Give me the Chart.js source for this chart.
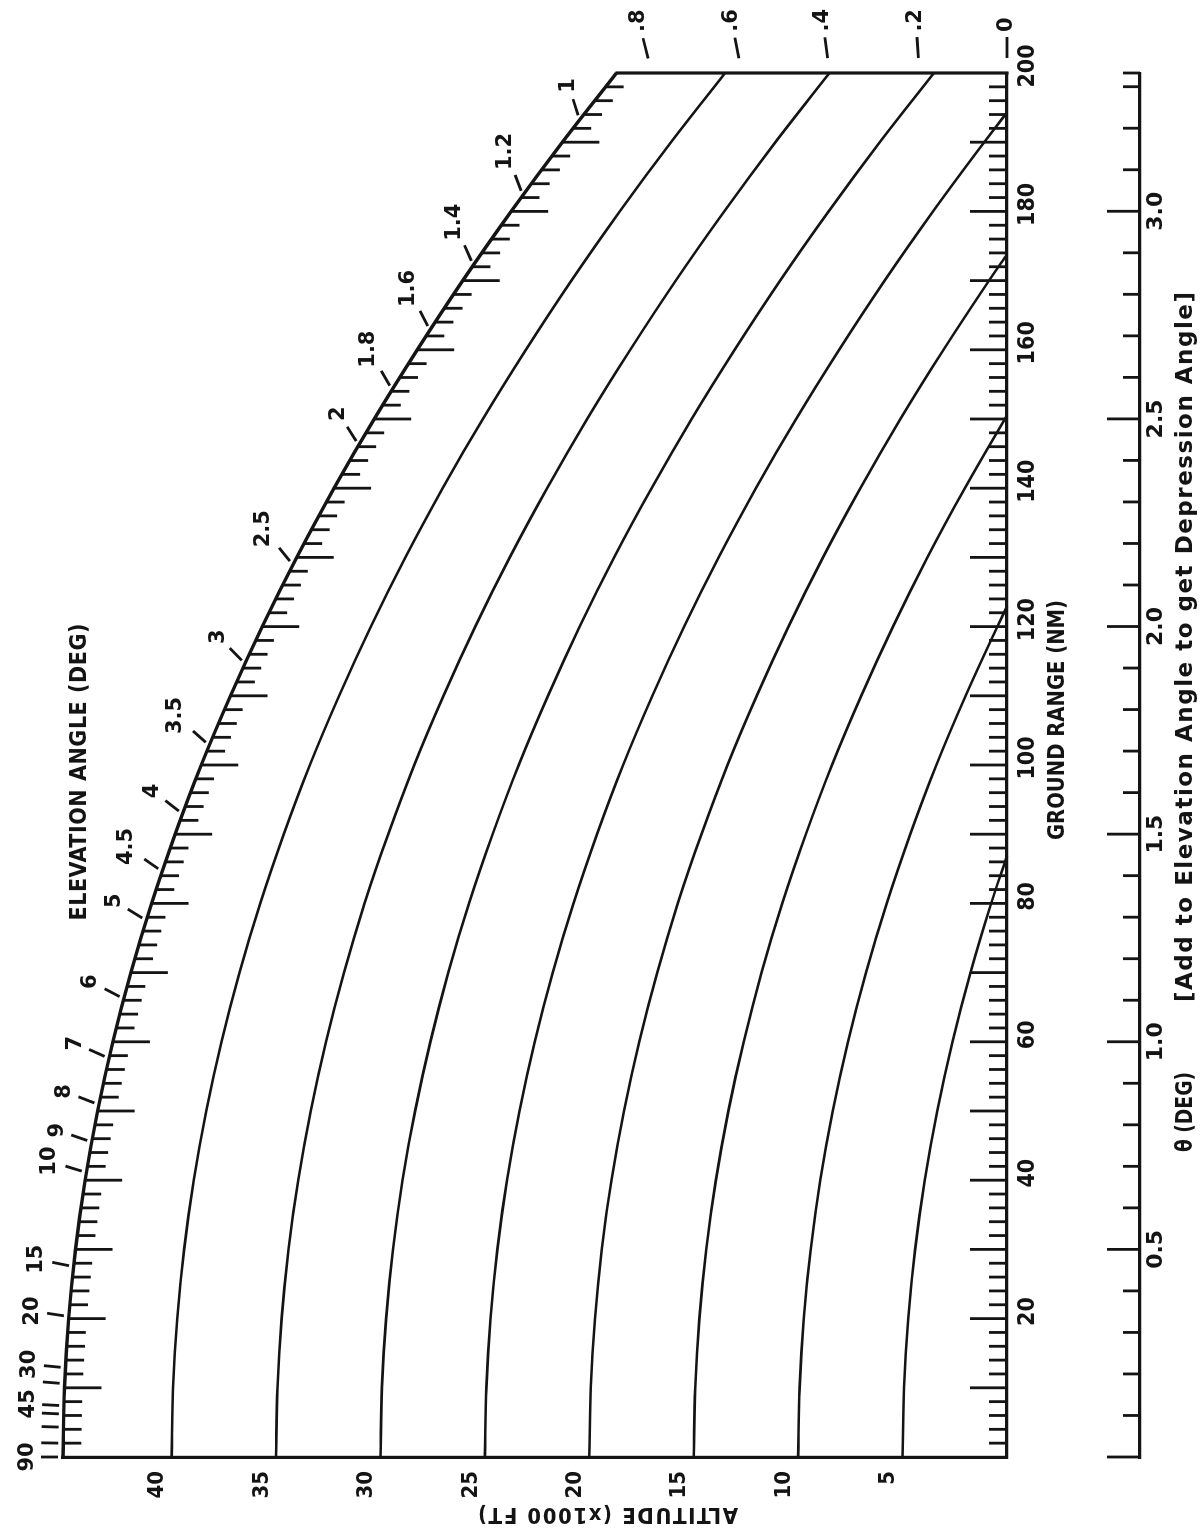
<!DOCTYPE html>
<html>
<head>
<meta charset="utf-8">
<script src="https://cdn.jsdelivr.net/npm/chart.js@4.4.0/dist/chart.umd.min.js"></script>
<style>
  html, body { margin: 0; padding: 0; background: #fff; overflow: hidden; }
  #page { position: relative; width: 1201px; height: 1532px; overflow: hidden; background: #fff; }
  /* the chart is drawn in landscape and turned a quarter to the left, like the printed page */
  #turn { position: absolute; left: 0; top: 0; width: 1532px; height: 1201px;
          transform-origin: 0 0; transform: translate(0px, 1532px) rotate(-90deg); }
</style>
</head>
<body>
<div id="page"><div id="turn"><canvas id="chart" width="1532" height="1201"></canvas></div></div>
<script>
const rangeNM = [0, 10, 20, 30, 40, 50, 60, 70, 80, 90, 100, 110, 120, 130, 140, 150, 160, 170, 180, 190, 200];

// altitude (x1000 ft) of each curve at those ranges
const curve5 = [5.0, 4.93, 4.73, 4.40, 3.94, 3.34, 2.61, 1.75, 0.76];
const curve10 = [10.0, 9.93, 9.73, 9.40, 8.94, 8.34, 7.61, 6.75, 5.76, 4.63, 3.38, 1.98, 0.46];
const curve15 = [15.0, 14.93, 14.73, 14.40, 13.94, 13.34, 12.61, 11.75, 10.76, 9.63, 8.38, 6.98, 5.46, 3.81, 2.02, 0.10];
const curve20 = [20.0, 19.93, 19.73, 19.40, 18.94, 18.34, 17.61, 16.75, 15.76, 14.63, 13.38, 11.98, 10.46, 8.81, 7.02, 5.10, 3.04, 0.86];
const curve25 = [25.0, 24.93, 24.73, 24.40, 23.94, 23.34, 22.61, 21.75, 20.76, 19.63, 18.38, 16.98, 15.46, 13.81, 12.02, 10.10, 8.04, 5.86, 3.54, 1.09];
const curve30 = [30.0, 29.93, 29.73, 29.40, 28.94, 28.34, 27.61, 26.75, 25.76, 24.63, 23.38, 21.98, 20.46, 18.81, 17.02, 15.10, 13.04, 10.86, 8.54, 6.09, 3.50];
const curve35 = [35.0, 34.93, 34.73, 34.40, 33.94, 33.34, 32.61, 31.75, 30.76, 29.63, 28.38, 26.98, 25.46, 23.81, 22.02, 20.10, 18.04, 15.86, 13.54, 11.09, 8.50];
const curve40 = [40.0, 39.93, 39.73, 39.40, 38.94, 38.34, 37.61, 36.75, 35.76, 34.63, 33.38, 31.98, 30.46, 28.81, 27.02, 25.10, 23.04, 20.86, 18.54, 16.09, 13.50];
// upper boundary, carries the elevation angle scale
const topArc = [45.2, 45.13, 44.93, 44.60, 44.14, 43.54, 42.81, 41.95, 40.96, 39.83, 38.58, 37.18, 35.66, 34.01, 32.22, 30.30, 28.24, 26.06, 23.74, 21.29, 18.70];

// range (NM) where the lower curves reach zero
const zeroRange = [86.9, 122.9, 150.5, 173.8, 194.3];

// altitude labels shown on the range-0 edge
const altLabels = [5, 10, 15, 20, 25, 30, 35, 40];

// elevation angle marks along the upper boundary
const elevText = ["90", "", "", "", "45", "", "30", "20", "15", "10", "9", "8", "7", "6", "5", "4.5", "4", "3.5", "3", "2.5", "2", "1.8", "1.6", "1.4", "1.2", "1"];
const elevRange = [0, 2.0, 4.3, 6.2, 7.4, 10.6, 12.9, 20.3, 27.5, 41.1, 45.5, 50.9, 57.6, 66.2, 77.5, 84.6, 92.9, 102.8, 114.6, 128.9, 146.2, 154.2, 162.8, 172.2, 182.3, 193.2];

// elevation angle marks on the 200 NM edge
const edgeText = [".8", ".6", ".4", ".2", "0"];
const edgeAlt = [17.0, 12.7, 8.5, 4.2, 0];

// theta (deg) at 200 NM
const thetaAtEdge = 3.333;

const INK = "#141414";
const FONT_C = '"DejaVu Sans Condensed", "DejaVu Sans", sans-serif';
const FONT = '"DejaVu Sans", sans-serif';

const curves = [curve5, curve10, curve15, curve20, curve25, curve30, curve35, curve40];

function toPoints(vals, end) {
  const pts = vals.map((v, i) => ({ x: rangeNM[i], y: v }));
  if (end !== undefined) pts.push({ x: end, y: 0 });
  return pts;
}

const datasets = curves.map((c, i) => ({
  data: toPoints(c, zeroRange[i]),
  borderColor: INK,
  borderWidth: 2.6,
  pointRadius: 0,
  cubicInterpolationMode: "monotone",
  clip: false,
}));
datasets.push({
  data: toPoints(topArc),
  borderColor: INK,
  borderWidth: 3.4,
  pointRadius: 0,
  cubicInterpolationMode: "monotone",
  clip: false,
});

function line(ctx, x1, y1, x2, y2) {
  ctx.beginPath();
  ctx.moveTo(x1, y1);
  ctx.lineTo(x2, y2);
  ctx.stroke();
}

// altitude of the upper boundary at a given range, along the read points
function arcAlt(r) {
  for (let i = 1; i < rangeNM.length; i++) {
    if (r <= rangeNM[i]) {
      const t = (r - rangeNM[i - 1]) / (rangeNM[i] - rangeNM[i - 1]);
      return topArc[i - 1] + t * (topArc[i] - topArc[i - 1]);
    }
  }
  return topArc[topArc.length - 1];
}

// text stretched with letter spacing to a measured length
function spacedText(ctx, text, cx, cy, width, font, rot) {
  ctx.save();
  ctx.font = font;
  ctx.letterSpacing = "0px";
  const natural = ctx.measureText(text).width;
  ctx.translate(cx, cy);
  if (rot) ctx.rotate(rot);
  ctx.textAlign = "left";
  ctx.textBaseline = "middle";
  if (natural >= width) {
    ctx.scale(width / natural, 1);
    ctx.fillText(text, -natural / 2, 0);
  } else {
    const gap = (width - natural) / (text.length - 1);
    ctx.letterSpacing = gap.toFixed(2) + "px";
    ctx.fillText(text, -width / 2, 0);
  }
  ctx.restore();
}

const chartMarks = {
  id: "chartMarks",
  afterDatasetsDraw(chart) {
    const { ctx } = chart;
    const { x, y, theta } = chart.scales;
    ctx.save();
    ctx.strokeStyle = INK;
    ctx.fillStyle = INK;
    ctx.lineCap = "butt";

    const y0 = y.getPixelForValue(0);
    const x0 = x.getPixelForValue(0);
    const xEdge = x.getPixelForValue(200);

    // 200 NM edge
    ctx.lineWidth = 3.2;
    line(ctx, xEdge, y0 + 1.5, xEdge, y.getPixelForValue(topArc[topArc.length - 1]) - 1);

    // range ticks on the zero line and on the upper boundary, pointing inward
    ctx.lineWidth = 2.8;
    for (let r = 2; r < 200; r += 2) {
      const len = r % 10 === 0 ? 37 : 18;
      const px = x.getPixelForValue(r);
      line(ctx, px, y0, px, y0 - len);
      const pa = y.getPixelForValue(arcAlt(r));
      line(ctx, px, pa, px, pa + len);
    }

    // theta scale ticks
    const ty = theta.top;
    for (let k = 0; k <= 33; k++) {
      const len = k % 5 === 0 ? 33 : 17;
      const px = theta.getPixelForValue(k / 10);
      line(ctx, px, ty, px, ty - len);
    }
    const pt = theta.getPixelForValue(theta.max);
    line(ctx, pt, ty, pt, ty - 17);

    // elevation angle marks along the boundary
    ctx.font = "bold 21px " + FONT;
    ctx.textAlign = "center";
    ctx.textBaseline = "middle";
    ctx.lineWidth = 2.8;
    elevRange.forEach((r, i) => {
      const px = x.getPixelForValue(r);
      const py = y.getPixelForValue(arcAlt(r));
      let ux = px - x0, uy = py - y0;
      const d = Math.hypot(ux, uy);
      ux /= d; uy /= d;
      line(ctx, px + ux * 5, py + uy * 5, px + ux * 22, py + uy * 22);
      if (elevText[i]) {
        const w = ctx.measureText(elevText[i]).width;
        const off = 27 + Math.abs(ux) * w / 2 + Math.abs(uy) * 8;
        ctx.fillText(elevText[i], px + ux * off, py + uy * off);
      }
    });

    // elevation angle marks past the 200 NM edge
    edgeAlt.forEach((a, i) => {
      const py = y.getPixelForValue(a);
      let ux = xEdge - x0, uy = py - y0;
      const d = Math.hypot(ux, uy);
      ux /= d; uy /= d;
      line(ctx, xEdge + ux * 15, py + uy * 15, xEdge + ux * 36, py + uy * 36);
      const w = ctx.measureText(edgeText[i]).width;
      const off = 41 + Math.abs(ux) * w / 2 + Math.abs(uy) * 8;
      ctx.fillText(edgeText[i], xEdge + ux * off, py + uy * off);
    });

    // titles
    spacedText(ctx, "ELEVATION ANGLE (DEG)", 760, 80, 297, "bold 23px " + FONT_C);
    spacedText(ctx, "GROUND RANGE (NM)", 812, 1058, 240, "bold 23px " + FONT_C);
    spacedText(ctx, "ALTITUDE (x1000 FT)", 18, 608, 260, "bold 22px " + FONT_C, -Math.PI / 2);
    spacedText(ctx, "\u03B8 (DEG)", 420, 1186, 80, "bold 23px " + FONT);
    spacedText(ctx, "[Add to Elevation Angle to get Depression Angle]", 885, 1186, 710, "bold 23px " + FONT);

    ctx.restore();
  },
};

new Chart(document.getElementById("chart"), {
  type: "line",
  data: { datasets },
  plugins: [chartMarks],
  options: {
    responsive: false,
    animation: false,
    devicePixelRatio: 1,
    layout: { padding: { left: 0, top: 63, right: 73, bottom: 0 } },
    plugins: { legend: { display: false }, tooltip: { enabled: false } },
    scales: {
      x: {
        type: "linear",
        position: "bottom",
        weight: 0,
        min: 0,
        max: 200,
        afterFit: (s) => { s.height = 133; },
        grid: { display: false, drawTicks: false },
        border: { display: true, color: INK, width: 3.2 },
        ticks: {
          stepSize: 20,
          autoSkip: false,
          maxRotation: 0,
          padding: 7,
          labelOffset: 7,
          color: INK,
          font: { family: FONT_C, size: 23, weight: "bold" },
          callback: (v) => (v === 0 ? "" : String(v)),
        },
      },
      theta: {
        type: "linear",
        axis: "x",
        position: "bottom",
        weight: 1,
        min: 0,
        max: thetaAtEdge,
        afterFit: (s) => { s.height = 61; },
        grid: { display: false, drawTicks: false },
        border: { display: true, color: INK, width: 3.2 },
        ticks: {
          stepSize: 0.5,
          includeBounds: false,
          autoSkip: false,
          maxRotation: 0,
          padding: 3,
          color: INK,
          font: { family: FONT, size: 22, weight: "bold" },
          callback: (v) => (v === 0 ? "" : v.toFixed(1)),
        },
      },
      y: {
        type: "linear",
        position: "left",
        min: 0,
        max: topArc[0],
        afterFit: (s) => { s.width = 75; },
        grid: { display: false, drawTicks: false },
        border: { display: true, color: INK, width: 3.2 },
        ticks: {
          stepSize: 5,
          includeBounds: false,
          padding: 14,
          labelOffset: -14,
          color: INK,
          font: { family: FONT_C, size: 22, weight: "bold" },
          callback: (v) => (altLabels.includes(v) ? String(v) : ""),
        },
      },
    },
  },
});
</script>
</body>
</html>
